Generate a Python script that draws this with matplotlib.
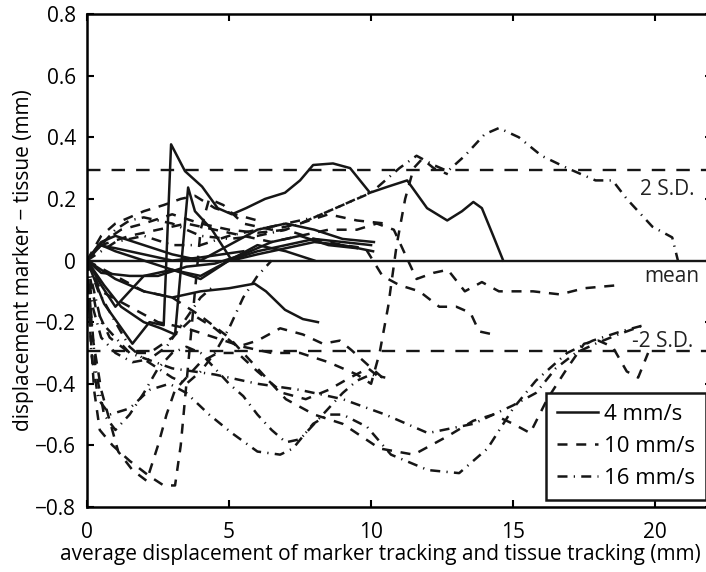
import matplotlib.pyplot as plt

plt.rcParams['font.family'] = ['Open Sans', 'DejaVu Sans']

# ------------------------------
# Data
# ------------------------------
sd_level = 0.295

# 4 mm/s (solid)
s1_x = [0, 0.6, 1.6, 2.2, 2.7, 2.96, 3.45, 4.05, 4.6, 5.1, 5.6, 6.27, 6.97, 7.5, 7.96, 8.66, 9.26, 9.96, 10.6, 11.27, 11.97, 12.68, 13.2, 13.6, 13.9, 14.3, 14.65]
s1_y = [0, -0.14, -0.27, -0.2, -0.21, 0.377, 0.29, 0.24, 0.17, 0.15, 0.17, 0.2, 0.22, 0.26, 0.31, 0.315, 0.30, 0.22, 0.24, 0.26, 0.17, 0.13, 0.16, 0.19, 0.17, 0.08, 0.0]
s2_x = [0, 0.6, 1.2, 2.0, 2.6, 3.1, 3.56, 3.8, 4.4, 5.1, 6.0, 7.0, 8.0, 9.0, 10.07]
s2_y = [0, -0.08, -0.15, -0.2, -0.22, -0.24, 0.237, 0.16, 0.10, 0.0, 0.02, 0.04, 0.06, 0.05, 0.03]
s3_x = [0, 1.0, 2.0, 3.0, 4.0, 5.0, 5.9, 6.3, 6.97, 7.6, 8.13]
s3_y = [0, -0.06, -0.1, -0.12, -0.1, -0.09, -0.075, -0.1, -0.16, -0.19, -0.2]
s4_x = [0, 0.5, 1.0, 2.0, 3.0, 4.0, 5.0, 6.0, 7.0, 8.0, 9.0, 10.0]
s4_y = [0, 0.05, 0.03, 0.0, -0.03, -0.05, 0.0, 0.03, 0.05, 0.07, 0.06, 0.05]
s5_x = [0, 0.5, 1.0, 2.0, 3.0, 4.0, 5.0, 6.0, 7.0, 8.0, 9.0, 10.1]
s5_y = [0, 0.06, 0.08, 0.05, 0.02, 0.0, 0.05, 0.10, 0.12, 0.10, 0.07, 0.06]
s6_x = [0, 0.5, 1.0, 1.5, 2.0, 3.0, 4.0, 5.0, 6.0, 7.0, 8.0]
s6_y = [0, -0.08, -0.15, -0.1, -0.05, -0.03, -0.06, 0.0, 0.05, 0.03, 0.0]
s7_x = [0, 0.4, 1.0, 2.0, 3.0, 4.0, 5.5]
s7_y = [0, 0.05, 0.04, 0.02, 0.0, 0.01, 0.03]
s8_x = [0, 0.5, 1.5, 2.5, 3.5, 4.5, 5.5, 6.5, 7.5, 8.5, 9.5]
s8_y = [0, -0.04, -0.05, -0.05, -0.02, -0.01, 0.02, 0.06, 0.08, 0.05, 0.04]

# 10 mm/s (dashed)
d1_x = [0, 0.2, 0.5, 0.8, 1.1, 1.6, 2.1, 2.5, 2.8, 3.1, 3.5, 4.0, 4.6, 5.3, 6.0, 6.9, 7.7, 8.5, 9.26, 9.9, 10.3]
d1_y = [0, -0.25, -0.42, -0.52, -0.62, -0.68, -0.715, -0.6, -0.5, -0.42, -0.38, -0.33, -0.3, -0.3, -0.36, -0.43, -0.45, -0.42, -0.38, -0.35, -0.38]
d2_x = [0, 0.1, 0.25, 0.45, 0.9, 1.5, 2.2, 2.7, 3.1, 3.3, 3.45, 3.6, 3.8, 4.0, 4.3, 4.8, 5.5, 6.5, 7.5, 8.5, 9.5, 10.5]
d2_y = [0, -0.2, -0.42, -0.55, -0.6, -0.65, -0.7, -0.73, -0.73, -0.6, -0.45, -0.3, -0.1, 0.1, 0.2, 0.18, 0.12, 0.10, 0.12, 0.15, 0.13, 0.12]
d3_x = [0, 0.5, 1.5, 2.5, 3.5, 4.5, 5.5, 6.5, 7.5, 8.5, 9.5, 10.2, 10.8, 11.2, 11.6, 12.2, 12.7, 13.3, 13.9, 14.5, 15.7, 16.65, 17.5, 18.7]
d3_y = [0, 0.05, 0.08, 0.10, 0.12, 0.10, 0.08, 0.06, 0.08, 0.10, 0.10, 0.12, 0.10, 0.02, -0.06, -0.04, -0.03, -0.1, -0.07, -0.1, -0.1, -0.11, -0.09, -0.08]
d4_x = [0, 0.5, 1.5, 2.5, 3.5, 4.5, 5.5, 6.5, 7.5, 8.5, 9.5, 10.0, 10.3, 10.6, 10.9, 11.2, 11.5, 11.8, 12.2, 12.7]
d4_y = [0, -0.1, -0.15, -0.2, -0.22, -0.25, -0.28, -0.3, -0.3, -0.33, -0.37, -0.4, -0.3, -0.15, 0.05, 0.2, 0.3, 0.33, 0.3, 0.28]
d5_x = [0, 0.4, 1.2, 2.0, 3.0, 4.0, 5.0, 6.0, 7.0, 8.0, 9.0, 9.8, 10.4, 11.0, 11.7, 12.4, 13.0, 13.5, 13.8, 14.3]
d5_y = [0, 0.05, 0.10, 0.12, 0.15, 0.12, 0.10, 0.09, 0.10, 0.07, 0.05, 0.04, -0.05, -0.08, -0.1, -0.15, -0.15, -0.17, -0.23, -0.24]
d6_x = [0, 0.3, 0.8, 1.5, 2.2, 3.0, 3.8, 4.5, 5.3, 6.0, 6.8, 7.6, 8.3, 8.9, 9.3, 9.9, 10.4]
d6_y = [0, -0.15, -0.25, -0.3, -0.3, -0.25, -0.18, -0.22, -0.28, -0.26, -0.22, -0.24, -0.27, -0.26, -0.29, -0.34, -0.38]
d7_x = [0, 0.5, 1.0, 1.5, 2.0, 2.7, 3.3, 3.8, 4.5, 5.2, 6.0]
d7_y = [0, 0.08, 0.12, 0.14, 0.16, 0.18, 0.20, 0.21, 0.17, 0.15, 0.13]
d8_x = [0, 1.0, 2.0, 3.0, 4.0, 5.0, 6.0, 7.0, 8.0, 9.0, 10.3, 11.5, 12.7, 13.6, 14.3, 15.0, 15.6, 16.2, 16.9, 17.5, 18.0, 18.5, 19.0, 19.4, 19.75]
d8_y = [0, -0.05, -0.1, -0.12, -0.18, -0.25, -0.35, -0.45, -0.5, -0.53, -0.61, -0.63, -0.57, -0.52, -0.5, -0.53, -0.56, -0.45, -0.35, -0.27, -0.26, -0.28, -0.36, -0.38, -0.3]

# 16 mm/s (dash-dot)
t1_x = [0, 1, 2, 3, 4, 5, 6, 7, 8, 9, 10, 11, 11.6, 12.2, 12.7, 13.3, 14.0, 14.5, 15.2, 16.0, 16.9, 17.9, 18.5, 19.0, 19.9, 20.6, 20.8]
t1_y = [0, 0.06, 0.08, 0.05, 0.05, 0.08, 0.10, 0.12, 0.14, 0.18, 0.22, 0.30, 0.34, 0.31, 0.29, 0.34, 0.41, 0.43, 0.40, 0.34, 0.30, 0.26, 0.26, 0.20, 0.11, 0.075, 0.0]
b1_x = [0, 0.15, 0.4, 0.8, 1.5, 2.2, 2.9, 3.5, 4.3, 5.1, 6.0, 6.8, 7.25, 7.96, 8.5, 9.0, 9.86, 10.7, 12.0, 13.1, 14.1, 15.0, 15.8, 16.9, 17.8, 18.8, 19.6]
b1_y = [0, -0.3, -0.45, -0.5, -0.48, -0.42, -0.4, -0.43, -0.5, -0.56, -0.62, -0.63, -0.61, -0.53, -0.5, -0.5, -0.54, -0.63, -0.68, -0.69, -0.61, -0.48, -0.39, -0.3, -0.26, -0.23, -0.21]
t3_x = [0, 0.2, 0.5, 1.0, 1.6, 2.2, 2.8, 3.4, 4.0, 4.5]
t3_y = [0, -0.15, -0.25, -0.3, -0.33, -0.32, -0.28, -0.2, -0.12, -0.08]
t4_x = [0, 0.3, 0.6, 1.0, 1.5, 2.0, 2.5, 3.0, 3.5, 4.0, 4.5, 5.0, 5.5, 6.0, 6.5, 7.0, 7.5, 8.0, 8.5, 9.0, 9.5, 10.0, 10.5]
t4_y = [0, -0.35, -0.5, -0.55, -0.5, -0.43, -0.35, -0.3, -0.28, -0.3, -0.35, -0.4, -0.44, -0.5, -0.55, -0.59, -0.58, -0.53, -0.48, -0.43, -0.39, -0.37, -0.38]
t5_x = [0, 0.5, 1.0, 1.5, 2.0, 2.5, 3.0, 3.5, 4.0, 5.0, 6.0, 7.0, 8.0, 9.0, 9.96]
t5_y = [0, 0.05, 0.10, 0.13, 0.14, 0.13, 0.12, 0.10, 0.08, 0.07, 0.08, 0.10, 0.14, 0.18, 0.22]
t6_x = [0, 0.4, 1.0, 1.5, 2.0, 2.5, 3.0, 3.5, 4.0, 4.5, 5.0, 5.5, 6.0, 6.5]
t6_y = [0, -0.1, -0.2, -0.28, -0.32, -0.35, -0.38, -0.4, -0.36, -0.3, -0.22, -0.12, -0.05, 0.0]
t7_x = [0, 0.5, 1.5, 3.0, 4.5, 6.0, 7.5, 9.0, 10.5, 12.0, 13.6, 14.3, 15.0, 15.8, 16.5, 17.2, 17.9, 18.7, 19.6]
t7_y = [0, -0.2, -0.3, -0.35, -0.37, -0.4, -0.42, -0.45, -0.5, -0.56, -0.53, -0.5, -0.47, -0.43, -0.35, -0.3, -0.27, -0.24, -0.21]

solid_curves = [(s1_x, s1_y), (s2_x, s2_y), (s3_x, s3_y), (s4_x, s4_y),
                (s5_x, s5_y), (s6_x, s6_y), (s7_x, s7_y), (s8_x, s8_y)]
dashed_curves = [(d1_x, d1_y), (d2_x, d2_y), (d3_x, d3_y), (d4_x, d4_y),
                 (d5_x, d5_y), (d6_x, d6_y), (d7_x, d7_y), (d8_x, d8_y)]
dashdot_curves = [(t1_x, t1_y), (b1_x, b1_y), (t3_x, t3_y), (t4_x, t4_y),
                  (t5_x, t5_y), (t6_x, t6_y), (t7_x, t7_y)]

# ------------------------------
# Plot
# ------------------------------
fig = plt.figure(figsize=(7.06, 5.72), dpi=100)
ax = fig.add_axes([0.1232, 0.1136, 0.8853, 0.8619])

lw = 1.8
dash = (4, 3.5)
dashdot = (4, 2.5, 0.5, 2.5)
ink = '#161616'

for i, (x, y) in enumerate(solid_curves):
    ax.plot(x, y, color=ink, lw=lw, label='4 mm/s' if i == 0 else None)
for i, (x, y) in enumerate(dashed_curves):
    ax.plot(x, y, color=ink, lw=lw, dashes=dash, label='10 mm/s' if i == 0 else None)
for i, (x, y) in enumerate(dashdot_curves):
    ax.plot(x, y, color=ink, lw=lw, dashes=dashdot, label='16 mm/s' if i == 0 else None)

# mean and +/- 2 S.D. lines
ax.axhline(0, color=ink, lw=1.7)
ax.axhline(sd_level, color=ink, lw=1.7, dashes=(5.7, 4.7))
ax.axhline(-sd_level, color=ink, lw=1.7, dashes=(5.7, 4.7))

fs = 15
ax.text(19.45, 0.232, '2 S.D.', fontsize=fs, va='center', color='#222222')
ax.text(19.6, -0.052, 'mean', fontsize=fs, va='center', color='#222222')
ax.text(19.2, -0.262, '-2 S.D.', fontsize=fs, va='center', color='#222222')

ax.set_xlim(0, 22)
ax.set_ylim(-0.8, 0.8)
ax.set_xticks([0, 5, 10, 15, 20])
ax.set_yticks([-0.8, -0.6, -0.4, -0.2, 0, 0.2, 0.4, 0.6, 0.8])
ax.set_yticklabels(['\u22120.8', '\u22120.6', '\u22120.4', '\u22120.2', '0', '0.2', '0.4', '0.6', '0.8'])
ax.tick_params(direction='in', length=5, width=1.5, labelsize=fs, top=True, right=True)
ax.tick_params(axis='x', pad=11)
ax.tick_params(axis='y', pad=8)
for sp in ax.spines.values():
    sp.set_linewidth(1.8)

ax.set_xlabel('average displacement of marker tracking and tissue tracking (mm)', fontsize=fs)
ax.xaxis.set_label_coords(0.47, -0.075)
ax.set_ylabel('displacement marker \u2212 tissue (mm)', fontsize=fs)
ax.yaxis.set_label_coords(-0.085, 0.5)

leg = ax.legend(loc='lower right', bbox_to_anchor=(0.99, 0.014), fontsize=16, frameon=True, fancybox=False,
                handlelength=1.85, handletextpad=0.25, borderpad=0.5, labelspacing=0.5, borderaxespad=0)
leg.get_frame().set_edgecolor(ink)
leg.get_frame().set_linewidth(1.8)
leg.get_frame().set_alpha(1)

fig.savefig('out.png', dpi=100)
